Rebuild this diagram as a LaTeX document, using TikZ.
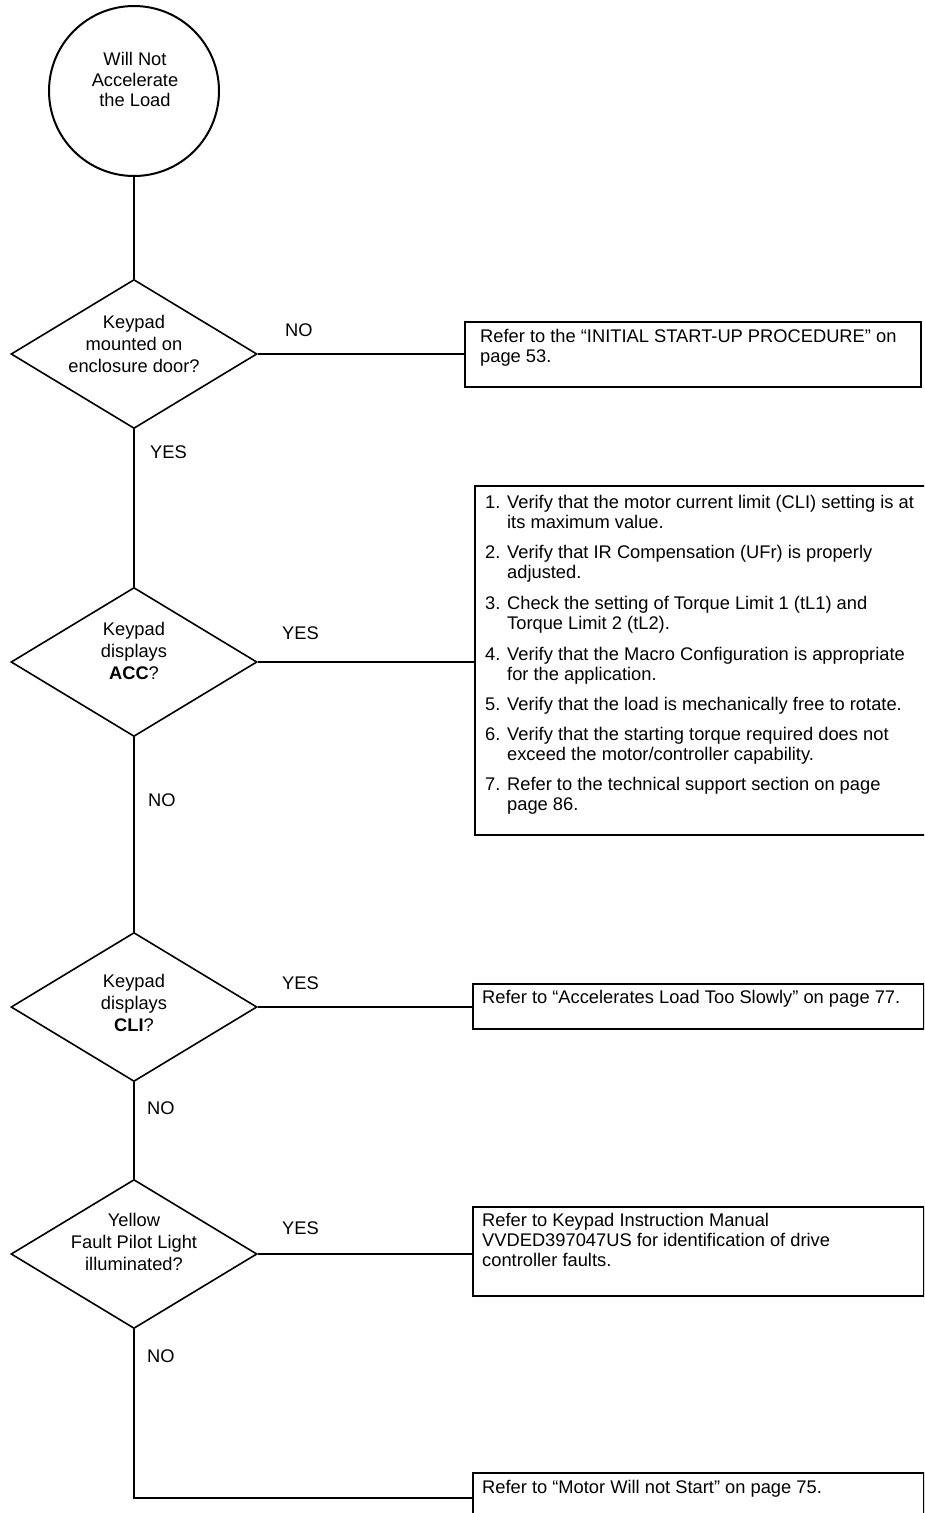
\documentclass[tikz,border=0pt]{standalone}
\usepackage{fontspec}
\setmainfont{Liberation Sans}
\usetikzlibrary{shapes.geometric}
\tikzset{
  startnode/.style={circle, draw, line width=2pt, minimum size=170pt, inner sep=0pt},
  decision/.style={diamond, draw, line width=1.6pt, minimum width=246pt, minimum height=149pt, inner sep=0pt},
  resbox/.style={draw, line width=2.6pt, anchor=north west, inner sep=0pt, outer sep=0pt},
  restext/.style={anchor=north west, align=left, inner sep=0pt, font=\fontsize{18.3}{20}\selectfont},
  qtext/.style={align=center, inner sep=0pt, font=\fontsize{18.3}{22}\selectfont},
  answer/.style={anchor=west, inner sep=0pt, font=\fontsize{18.3}{20}\selectfont},
  wire/.style={line width=2.6pt}
}

\begin{document}
\begin{tikzpicture}[x=1pt,y=-1pt]
\useasboundingbox (0,0) rectangle (924,1513);
\clip (0,0) rectangle (924,1513);
	% Start
\node [startnode] (s) at (134,91) {};
\node [qtext, font=\fontsize{18.3}{20.5}\selectfont] (st) at (135,79.5) {Will Not\\Accelerate\\the Load};

	% Questions
\node [decision] (q1) at (134,354) {};
\node [qtext] (q1t) at (134,344) {Keypad\\mounted on\\enclosure door?};
\node [decision] (q2) at (134,662) {};
\node [qtext] (q2t) at (134,651) {Keypad\\displays\\\textbf{ACC}?};
\node [decision] (q3) at (134,1007) {};
\node [qtext] (q3t) at (134,1002.5) {Keypad\\displays\\\textbf{CLI}?};
\node [decision] (q4) at (134,1254) {};
\node [qtext] (q4t) at (134,1242) {Yellow\\Fault Pilot Light\\illuminated?};

	% Results
\node [resbox, minimum width=456pt, minimum height=65pt] (r1) at (465,322) {};
\node [restext] (r1t) at (480,328.8) {Refer to the “INITIAL START-UP PROCEDURE” on\\page 53.};
\node [resbox, minimum width=460pt, minimum height=349pt] (r2) at (475,486) {};
\node [restext] (r2t) at (485,494.5) {\begin{tabular}{@{}l@{\hspace{6.7pt}}l@{}}
1. & Verify that the motor current limit (CLI) setting is at\\
   & its maximum value.\\[10pt]
2. & Verify that IR Compensation (UFr) is properly\\
   & adjusted.\\[11pt]
3. & Check the setting of Torque Limit 1 (tL1) and\\
   & Torque Limit 2 (tL2).\\[11pt]
4. & Verify that the Macro Configuration is appropriate\\
   & for the application.\\[10pt]
5. & Verify that the load is mechanically free to rotate.\\[10pt]
6. & Verify that the starting torque required does not\\
   & exceed the motor/controller capability.\\[10pt]
7. & Refer to the technical support section on page\\
   & page 86.
\end{tabular}};
\node [resbox, minimum width=451pt, minimum height=45pt] (r3) at (473,984) {};
\node [restext] (r3t) at (482,990.3) {Refer to “Accelerates Load Too Slowly” on page 77.};
\node [resbox, minimum width=451pt, minimum height=89pt] (r4) at (473,1207) {};
\node [restext] (r4t) at (482,1213.3) {Refer to Keypad Instruction Manual\\VVDED397047US for identification of drive\\controller faults.};
\node [resbox, minimum width=451pt, minimum height=50pt] (r5) at (473,1473) {};
\node [restext] (r5t) at (482,1480.5) {Refer to “Motor Will not Start” on page 75.};

	% Answers
\node [answer] (a1) at (285,330) {NO};
\node [answer] (a2) at (150,452) {YES};
\node [answer] (a3) at (282,633) {YES};
\node [answer] (a4) at (148,800) {NO};
\node [answer] (a5) at (282,983) {YES};
\node [answer] (a6) at (147,1108) {NO};
\node [answer] (a7) at (282,1228) {YES};
\node [answer] (a8) at (147,1356) {NO};

	% Connectors
\draw [wire] (s) -- (q1);
\draw [wire] (q1) -- (q2);
\draw [wire] (q2) -- (q3);
\draw [wire] (q3) -- (q4);
\draw [wire] (q1.east) -- (q1.east -| r1.west);
\draw [wire] (q2.east) -- (q2.east -| r2.west);
\draw [wire] (q3.east) -- (q3.east -| r3.west);
\draw [wire] (q4.east) -- (q4.east -| r4.west);
\draw [wire] (q4.south) |- (r5.west);
\end{tikzpicture}
\end{document}
